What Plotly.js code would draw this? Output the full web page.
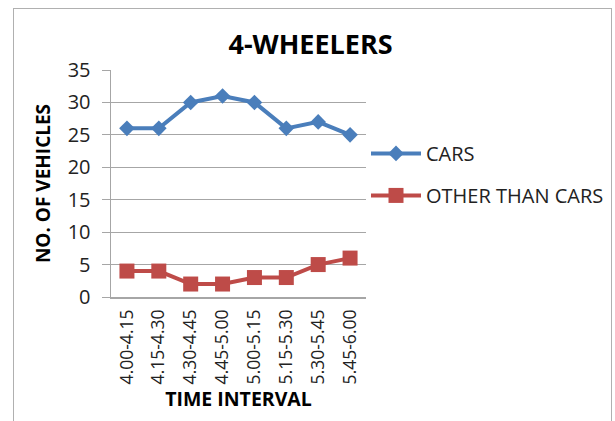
<!DOCTYPE html>
<html>
<head>
<meta charset="utf-8">
<script src="https://cdn.plot.ly/plotly-3.0.1.min.js"></script>
<style>
html,body{margin:0;padding:0;background:#fff;overflow:hidden;}
#frame{position:absolute;left:13px;top:8px;width:599px;height:430px;border:1px solid #b0b0b0;box-sizing:border-box;pointer-events:none;z-index:5;}
#chart{position:absolute;left:0;top:0;width:615px;height:421px;}
</style>
</head>
<body>
<div id="chart"></div>
<div id="frame"></div>
<script>
var categories = ["4.00-4.15","4.15-4.30","4.30-4.45","4.45-5.00","5.00-5.15","5.15-5.30","5.30-5.45","5.45-6.00"];
var cars = [26, 26, 30, 31, 30, 26, 27, 25];
var otherThanCars = [4, 4, 2, 2, 3, 3, 5, 6];
var yTicks = [0, 5, 10, 15, 20, 25, 30, 35];

var FONT = "'Open Sans', 'Noto Sans', sans-serif";

var traces = [
  {x: categories, y: cars, name: "CARS", type: "scatter", mode: "lines+markers",
   legendgroup: "a",
   line: {color: "#4A7EBB", width: 4},
   marker: {symbol: "diamond", size: 12, color: "#4A7EBB"}},
  {x: categories, y: otherThanCars, name: "OTHER THAN CARS", type: "scatter", mode: "lines+markers",
   legendgroup: "b",
   line: {color: "#BE4B48", width: 4},
   marker: {symbol: "square", size: 15, color: "#BE4B48"}}
];

var layout = {
  width: 615, height: 421,
  margin: {l: 111, r: 249, t: 70, b: 124, pad: 0, autoexpand: false},
  paper_bgcolor: "#fff", plot_bgcolor: "#fff",
  font: {family: FONT, color: "#222", size: 17},
  title: {text: "<b>4-WHEELERS</b>", x: 0.505, xanchor: "center", y: 0.893, yanchor: "middle",
          font: {family: FONT, size: 27, color: "#000"}},
  xaxis: {
    type: "category", range: [-0.5, 7.5],
    showgrid: false, showline: true, linecolor: "#a6a6a6", linewidth: 1.5,
    ticks: "", tickangle: -90, ticklabelstandoff: 4,
    tickfont: {family: FONT, size: 17.5, color: "#222"},
    title: {text: "<b>TIME INTERVAL</b>", font: {family: FONT, size: 19.5, color: "#000"}, standoff: 9},
    zeroline: false, fixedrange: true
  },
  yaxis: {
    range: [0, 35], tickvals: yTicks, ticktext: yTicks.map(String),
    showgrid: true, gridcolor: "#a6a6a6", gridwidth: 1,
    showline: true, linecolor: "#a6a6a6", linewidth: 1.5,
    ticks: "outside", ticklen: 8, tickcolor: "#a6a6a6", tickwidth: 1,
    ticklabelstandoff: 7,
    tickfont: {family: FONT, size: 20, color: "#222"},
    title: {text: "<b>NO. OF VEHICLES</b>", font: {family: FONT, size: 19, color: "#000"}, standoff: 12},
    zeroline: false, fixedrange: true
  },
  showlegend: true,
  legend: {x: 1.0, xanchor: "left", y: 0.54, yanchor: "middle",
           font: {family: FONT, size: 20, color: "#222"},
           traceorder: "grouped", tracegroupgap: 13, bgcolor: "rgba(0,0,0,0)", itemwidth: 50}
};

Plotly.newPlot("chart", traces, layout, {displayModeBar: false, staticPlot: true});
</script>
</body>
</html>
